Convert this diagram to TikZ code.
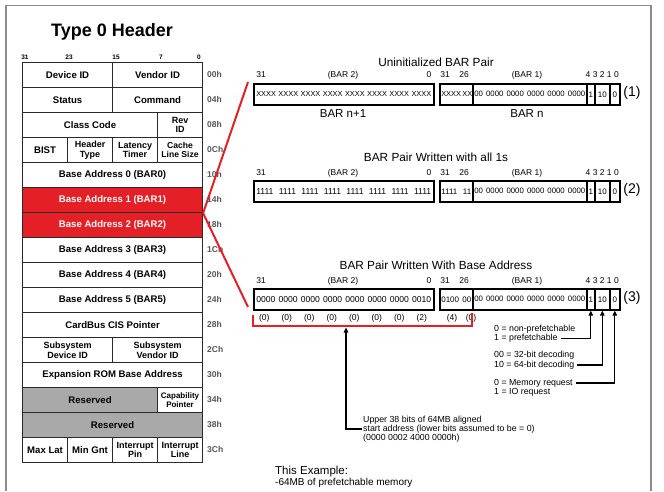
\documentclass[tikz,border=0pt]{standalone}
\usepackage{fontspec}
\setmainfont{Liberation Sans}
\usetikzlibrary{arrows.meta}
\definecolor{barred}{HTML}{E41F26}
\definecolor{resgray}{HTML}{A9A9A9}
\definecolor{offgray}{HTML}{555555}
\definecolor{framegray}{HTML}{8C8C8C}
\definecolor{tblline}{HTML}{2A2A2A}
\newcommand\tblf{\fontsize{9.6}{10}\selectfont\bfseries}
\newcommand\tblsf{\fontsize{9}{9.6}\selectfont\bfseries}
\newcommand\offf{\fontsize{8.5}{9}\selectfont\bfseries}
\newcommand\bnf{\fontsize{6.5}{6.5}\selectfont\bfseries}
\newcommand\ttlf{\fontsize{11.8}{12}\selectfont}
\newcommand\bitf{\fontsize{8.5}{9}\selectfont}
\newcommand\boxf{\fontsize{8}{8}\selectfont}
\newcommand\boxbig{\fontsize{8.6}{9}\selectfont}
\newcommand\boxx{\fontsize{7.4}{8}\selectfont}
\newcommand\boxmid{\fontsize{7.8}{8}\selectfont}
\newcommand\descf{\fontsize{8.8}{9}\selectfont}
\tikzset{
  cell/.style={draw=tblline, line width=1.1pt, anchor=north west, inner sep=0pt,
    minimum height=25pt, align=center, font=\tblf},
  redcell/.style={cell, fill=barred, text=white},
  rescell/.style={cell, fill=resgray},
  offs/.style={anchor=west, inner sep=0pt, font=\offf, text=offgray},
  bnum/.style={inner sep=0pt, font=\bnf},
  ttl/.style={inner sep=0pt, font=\ttlf},
  bitl/.style={inner sep=0pt, font=\bitf},
  bx/.style={draw=black, line width=1.6pt, anchor=north west, inner sep=0pt,
    minimum height=21pt, font=\boxf},
  pairlab/.style={inner sep=0pt, font=\fontsize{14}{14}\selectfont},
  barlab/.style={inner sep=0pt, font=\fontsize{11.5}{12}\selectfont},
  desc/.style={anchor=west, inner sep=0pt, font=\descf},
  redl/.style={draw=barred, line width=2pt},
  brk/.style={draw=barred, line width=2.5pt},
  arr/.style={draw=black, line width=1.2pt, -{Triangle[length=5pt,width=4.5pt]}},
}
\begin{document}
\begin{tikzpicture}[x=1pt,y=-1pt]
\useasboundingbox (0,0) rectangle (664,491);
% frame
\draw[framegray, line width=1.5pt] (6,491) -- (6,5.5) -- (651,5.5) -- (651,491);
% title
\node[inner sep=0pt, font=\fontsize{18}{18}\selectfont\bfseries] (title) at (112,32) {Type 0 Header};
% bit numbers
\node[bnum] (n31) at (25,57) {31};
\node[bnum] (n23) at (69,57) {23};
\node[bnum] (n15) at (116,57) {15};
\node[bnum] (n7) at (161,57) {7};
\node[bnum] (n0) at (199,57) {0};
% table
\node[cell, minimum width=90pt] (devid) at (22,62) {Device ID};
\node[cell, minimum width=90pt] (venid) at (112,62) {Vendor ID};
\node[cell, minimum width=90pt] (status) at (22,87) {Status};
\node[cell, minimum width=90pt] (command) at (112,87) {Command};
\node[cell, minimum width=135pt] (class) at (22,112) {Class Code};
\node[cell, minimum width=45pt, font=\tblsf] (revid) at (157,112) {Rev\\ID};
\node[cell, minimum width=45pt] (bist) at (22,137) {BIST};
\node[cell, minimum width=45pt, font=\tblsf] (htype) at (67,137) {Header\\Type};
\node[cell, minimum width=45pt, font=\tblsf] (lat) at (112,137) {Latency\\Timer};
\node[cell, minimum width=45pt, font=\fontsize{8.6}{9.6}\selectfont\bfseries] (cache) at (157,137) {Cache\\Line Size};
\node[cell, minimum width=180pt] (bar0) at (22,162) {Base Address 0 (BAR0)};
\node[redcell, minimum width=180pt] (bar1) at (22,187) {Base Address 1 (BAR1)};
\node[redcell, minimum width=180pt] (bar2) at (22,212) {Base Address 2 (BAR2)};
\node[cell, minimum width=180pt] (bar3) at (22,237) {Base Address 3 (BAR3)};
\node[cell, minimum width=180pt] (bar4) at (22,262) {Base Address 4 (BAR4)};
\node[cell, minimum width=180pt] (bar5) at (22,287) {Base Address 5 (BAR5)};
\node[cell, minimum width=180pt] (cis) at (22,312) {CardBus CIS Pointer};
\node[cell, minimum width=90pt, font=\tblsf] (subdev) at (22,337) {Subsystem\\Device ID};
\node[cell, minimum width=90pt, font=\tblsf] (subven) at (112,337) {Subsystem\\Vendor ID};
\node[cell, minimum width=180pt] (rom) at (22,362) {Expansion ROM Base Address};
\node[rescell, minimum width=135pt] (res1) at (22,387) {Reserved};
\node[cell, minimum width=45pt, font=\fontsize{8}{9}\selectfont\bfseries] (cap) at (157,387) {Capability\\Pointer};
\node[rescell, minimum width=180pt] (res2) at (22,412) {Reserved};
\node[cell, minimum width=45pt] (maxlat) at (22,437) {Max Lat};
\node[cell, minimum width=45pt] (mingnt) at (67,437) {Min Gnt};
\node[cell, minimum width=45pt, font=\tblsf] (ipin) at (112,437) {Interrupt\\Pin};
\node[cell, minimum width=45pt, font=\tblsf] (iline) at (157,437) {Interrupt\\Line};
% offsets
\foreach \lab [count=\i from 0] in {00h,04h,08h,0Ch,10h,14h,18h,1Ch,20h,24h,28h,2Ch,30h,34h,38h,3Ch}
  \node[offs] (off\i) at (207,74.5+25*\i) {\lab};

% ---------- Section 1 ----------
\node[ttl] (t1) at (436,62) {Uninitialized BAR Pair};
\node[bitl] (s1a) at (261,75) {31};
\node[bitl] (s1b) at (343,75) {(BAR 2)};
\node[bitl] (s1c) at (429,75) {0};
\node[bitl] (s1d) at (445,75) {31};
\node[bitl] (s1e) at (464,75) {26};
\node[bitl] (s1f) at (527,75) {(BAR 1)};
\node[bitl, anchor=east] (s1g) at (619,75) {4 3 2 1 0};
\node[bx, minimum width=180pt] (b1L) at (253,83) {\boxx\makebox[175pt][s]{XXXX XXXX XXXX XXXX XXXX XXXX XXXX XXXX}};
\node[bx, minimum width=33pt] (b1a) at (439,83) {\boxx\makebox[30pt][s]{XXXX XX}};
\node[bx, minimum width=114pt] (b1b) at (472,83) {\boxmid\makebox[111pt][s]{00 0000 0000 0000 0000 0000}};
\node[bx, minimum width=8pt] (b1c) at (586,83) {1};
\node[bx, minimum width=15pt] (b1d) at (594,83) {10};
\node[bx, minimum width=10pt] (b1e) at (609,83) {0};
\node[barlab] (bn1) at (343,114) {BAR n+1};
\node[barlab] (bn) at (527,114) {BAR n};
\node[pairlab] (p1) at (632,93) {(1)};

% ---------- Section 2 ----------
\node[ttl] (t2) at (436,157) {BAR Pair Written with all 1s};
\node[bitl] (s2a) at (261,173) {31};
\node[bitl] (s2b) at (343,173) {(BAR 2)};
\node[bitl] (s2c) at (429,173) {0};
\node[bitl] (s2d) at (445,173) {31};
\node[bitl] (s2e) at (464,173) {26};
\node[bitl] (s2f) at (527,173) {(BAR 1)};
\node[bitl, anchor=east] (s2g) at (619,173) {4 3 2 1 0};
\node[bx, minimum width=180pt] (b2L) at (253,180) {\boxbig\makebox[175pt][s]{1111 1111 1111 1111 1111 1111 1111 1111}};
\node[bx, minimum width=33pt] (b2a) at (439,180) {\makebox[30pt][s]{1111 11}};
\node[bx, minimum width=114pt] (b2b) at (472,180) {\boxmid\makebox[111pt][s]{00 0000 0000 0000 0000 0000}};
\node[bx, minimum width=8pt] (b2c) at (586,180) {1};
\node[bx, minimum width=15pt] (b2d) at (594,180) {10};
\node[bx, minimum width=10pt] (b2e) at (609,180) {0};
\node[pairlab] (p2) at (632,190) {(2)};

% ---------- Section 3 ----------
\node[ttl] (t3) at (436,265) {BAR Pair Written With Base Address};
\node[bitl] (s3a) at (261,281) {31};
\node[bitl] (s3b) at (343,281) {(BAR 2)};
\node[bitl] (s3c) at (429,281) {0};
\node[bitl] (s3d) at (445,281) {31};
\node[bitl] (s3e) at (464,281) {26};
\node[bitl] (s3f) at (527,281) {(BAR 1)};
\node[bitl, anchor=east] (s3g) at (619,281) {4 3 2 1 0};
\node[bx, minimum width=180pt] (b3L) at (253,288) {\boxbig\makebox[175pt][s]{0000 0000 0000 0000 0000 0000 0000 0010}};
\node[bx, minimum width=33pt] (b3a) at (439,288) {\makebox[30pt][s]{0100 00}};
\node[bx, minimum width=114pt] (b3b) at (472,288) {\boxmid\makebox[111pt][s]{00 0000 0000 0000 0000 0000}};
\node[bx, minimum width=8pt] (b3c) at (586,288) {1};
\node[bx, minimum width=15pt] (b3d) at (594,288) {10};
\node[bx, minimum width=10pt] (b3e) at (609,288) {0};
\node[pairlab] (p3) at (632,298) {(3)};
% nibble values
\foreach \v [count=\k from 0] in {(0),(0),(0),(0),(0),(0),(0),(2)}
  \node[bitl] (v\k) at (264.25+22.5*\k,318) {\v};
\node[bitl] (v8) at (452,318) {(4)};
\node[bitl] (v9) at (471,318) {(0)};

% red bracket
\coordinate (brTL) at (253,315);
\coordinate (brBL) at (253,326);
\coordinate (brBR) at (472,326);
\coordinate (brTR) at (472,313);
\draw[brk] (brTL) -- (brBL) -- (brBR) -- (brTR);
\coordinate (brk) at (346,327.5);

% red lines from table
\coordinate (redtop) at (248,82);
\coordinate (redbot) at (248,307);
\draw[redl] (bar1.south east) -- (redtop);
\draw[redl] (bar1.south east) -- (redbot);

% descriptions
\node[desc] (pf1) at (494,329) {0 = non-prefetchable};
\node[desc] (pf2) at (494,338.5) {1 = prefetchable};
\node[desc] (dc1) at (494,355.5) {00 = 32-bit decoding};
\node[desc] (dc2) at (494,365) {10 = 64-bit decoding};
\node[desc] (mr1) at (494,383) {0 = Memory request};
\node[desc] (mr2) at (494,392.5) {1 = IO request};
\node[desc] (up1) at (363,420) {Upper 38 bits of 64MB aligned};
\node[desc] (up2) at (363,429) {start address (lower bits assumed to be = 0)};
\node[desc] (up3) at (363,438) {(0000 0002 4000 0000h)};

\draw[arr] ([xshift=3pt]pf2.east) -| (b3c.south);
\draw[arr] ([xshift=3pt]dc2.east) -| (b3d.south);
\draw[arr] ([xshift=3pt]mr1.east) -| (b3e.south);
\draw[arr] ([xshift=-1pt]up2.west) -| (brk);

% example
\node[anchor=west, inner sep=0pt, font=\fontsize{11.5}{12}\selectfont] (ex1) at (275,472) {This Example:};
\node[anchor=west, inner sep=0pt, font=\fontsize{10}{10}\selectfont] (ex2) at (275,483) {-64MB of prefetchable memory};
\end{tikzpicture}
\end{document}
